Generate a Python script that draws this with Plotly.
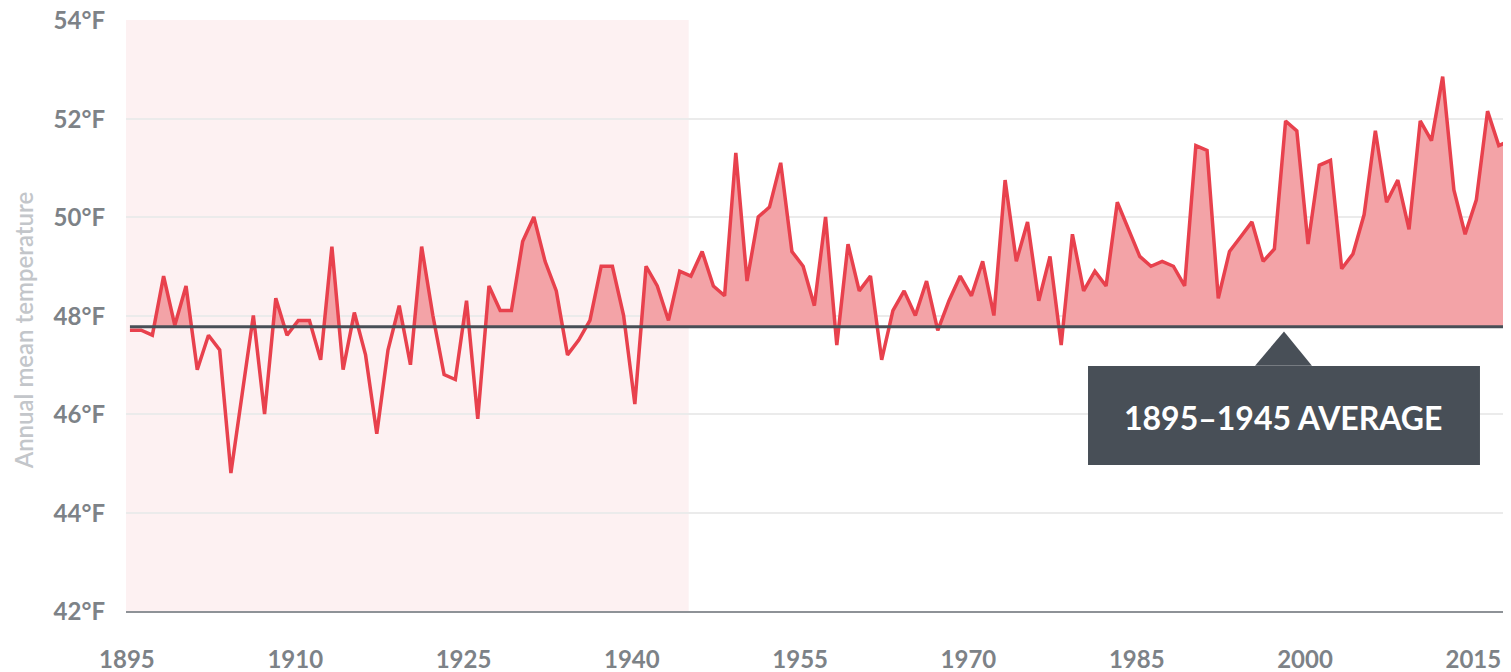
import plotly.graph_objects as go

years = list(range(1895, 2019))
temps = [
    47.7, 47.7, 47.6, 48.8, 47.8, 48.6, 46.9, 47.6, 47.3, 44.8,
    46.4, 48.0, 46.0, 48.35, 47.6, 47.9, 47.9, 47.1, 49.4, 46.9,
    48.06, 47.2, 45.6, 47.3, 48.2, 47.0, 49.4, 48.0, 46.8, 46.7,
    48.3, 45.9, 48.6, 48.1, 48.1, 49.5, 50.0, 49.1, 48.5, 47.2,
    47.5, 47.9, 49.0, 49.0, 48.0, 46.2, 49.0, 48.6, 47.9, 48.9,
    48.8, 49.3, 48.6, 48.4, 51.3, 48.7, 50.0, 50.2, 51.1, 49.3,
    49.0, 48.2, 50.0, 47.4, 49.45, 48.5, 48.8, 47.1, 48.1, 48.5,
    48.0, 48.7, 47.7, 48.3, 48.8, 48.4, 49.1, 48.0, 50.75, 49.1,
    49.9, 48.3, 49.2, 47.4, 49.65, 48.5, 48.9, 48.6, 50.3, 49.75,
    49.2, 49.0, 49.1, 49.0, 48.6, 51.45, 51.35, 48.35, 49.3, 49.6,
    49.9, 49.1, 49.35, 51.95, 51.75, 49.45, 51.05, 51.15, 48.95, 49.25,
    50.05, 51.75, 50.3, 50.75, 49.75, 51.95, 51.55, 52.85, 50.55, 49.65,
    50.35, 52.15, 51.45, 51.55,
]
baseline_avg = 47.77
baseline_period = [1895, 1944.8]
x_ticks = [1895, 1910, 1925, 1940, 1955, 1970, 1985, 2000, 2015]
y_ticks = [42, 44, 46, 48, 50, 52, 54]
y_tick_labels = [f"{v}°F" for v in y_ticks]
annotation_text = "1895–1945 AVERAGE"

RED = "#e8414d"
FILL = "#f3a3a7"
DARK = "#484f57"
TICK = "#7d8287"


def above_polygon(xs, ys, base):
    px, py = [], []
    for i in range(len(xs)):
        if i > 0:
            d0, d1 = ys[i - 1] - base, ys[i] - base
            if d0 * d1 < 0:
                t = d0 / (d0 - d1)
                px.append(xs[i - 1] + t * (xs[i] - xs[i - 1]))
                py.append(base)
        px.append(xs[i])
        py.append(max(ys[i], base))
    px += [xs[-1], xs[0]]
    py += [base, base]
    return px, py


fx, fy = above_polygon(years, temps, baseline_avg)

fig = go.Figure()
fig.add_trace(go.Scatter(x=fx, y=fy, mode="lines", fill="toself",
                         fillcolor=FILL, line=dict(width=0), hoverinfo="skip",
                         showlegend=False))
fig.add_trace(go.Scatter(x=years, y=temps, mode="lines",
                         line=dict(color=RED, width=3.5), showlegend=False))
fig.add_trace(go.Scatter(x=[years[0], years[-1]], y=[baseline_avg, baseline_avg],
                         mode="lines", line=dict(color=DARK, width=3),
                         showlegend=False))

fig.add_shape(type="rect", xref="x", yref="paper",
              x0=1894.65, x1=baseline_period[1], y0=0, y1=1,
              fillcolor="#fdf1f2", line=dict(width=0), layer="below")

# callout box
fig.add_shape(type="rect", xref="paper", yref="paper",
              x0=0.6951, x1=0.9783, y0=0.2470, y1=0.4146,
              fillcolor=DARK, line=dict(width=0), layer="above")
fig.add_shape(type="path", xref="paper", yref="paper",
              path="M 0.8158 0.4150 L 0.8367 0.4730 L 0.8569 0.4150 Z",
              fillcolor=DARK, line=dict(width=0), layer="above")
fig.add_annotation(xref="paper", yref="paper", x=0.8367, y=0.3280,
                   xanchor="center", yanchor="middle",
                   text=annotation_text, showarrow=False,
                   font=dict(family="Lato", size=32, color="white", weight="bold"))

fig.add_annotation(xref="paper", yref="paper", x=-0.0744, y=0.475,
                   xanchor="center", yanchor="middle",
                   text="Annual mean temperature", textangle=-90, showarrow=False,
                   font=dict(family="Lato", size=24, color="#c3c6ca", weight=600))

fig.update_layout(
    width=1503, height=664,
    margin=dict(l=118, r=1, t=12, b=61, autoexpand=False),
    paper_bgcolor="white", plot_bgcolor="white",
    font=dict(family="Lato"),
    xaxis=dict(range=[1894.65, 2018.0], tickvals=x_ticks,
               ticktext=[str(v) for v in x_ticks],
               showgrid=False, zeroline=False, automargin=False,
               showline=True, linecolor="#8e9297", linewidth=1.8,
               ticks="", ticklabelstandoff=26, ticklabelshift=-3,
               ticklabeloverflow="allow",
               tickfont=dict(family="Lato", size=24, color=TICK, weight="bold")),
    yaxis=dict(range=[42, 54], tickvals=y_ticks, ticktext=y_tick_labels,
               showgrid=True, gridcolor="#ebebeb", gridwidth=1.5,
               zeroline=False, ticks="", ticklabelstandoff=20, automargin=False,
               ticklabeloverflow="allow", ticklabelshift=1,
               tickfont=dict(family="Lato", size=24, color=TICK, weight="bold")),
)

fig.write_html("out.html")
